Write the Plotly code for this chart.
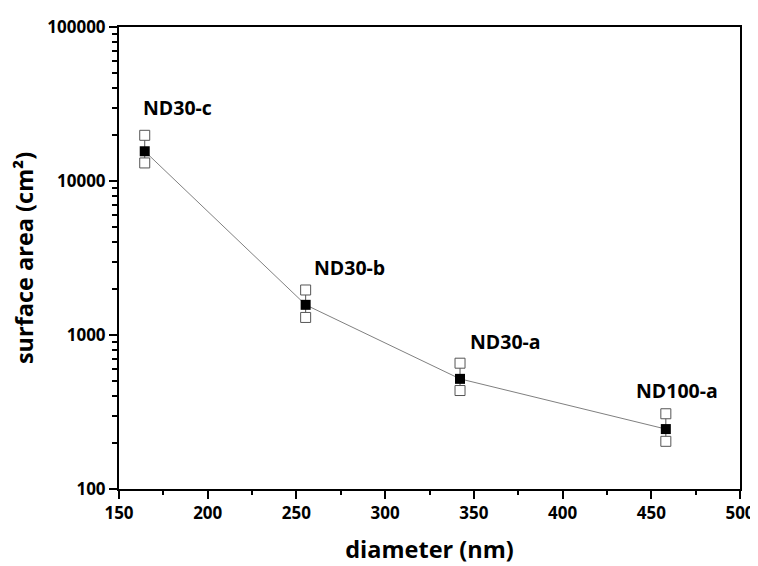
import math
import plotly.graph_objects as go

# Data
samples = ["ND30-c", "ND30-b", "ND30-a", "ND100-a"]
diameter = [164.5, 255.2, 342.2, 458.2]
area_mean = [15600, 1570, 519, 245]
area_upper = [19800, 1960, 656, 308]
area_lower = [13100, 1300, 436, 204]

# label offsets (pixels) relative to upper marker
label_dx = [33, 44, 45, 11]
label_dy = [28, 22, 22, 23]

FONT = "Open Sans"

err_plus = [u - m for u, m in zip(area_upper, area_mean)]
err_minus = [m - l for m, l in zip(area_mean, area_lower)]

fig = go.Figure()

# connecting line + filled squares with vertical bars
fig.add_trace(go.Scatter(
    x=diameter, y=area_mean, mode="lines+markers",
    line=dict(color="#808080", width=1),
    marker=dict(symbol="square", size=10, color="black"),
    error_y=dict(type="data", array=err_plus, arrayminus=err_minus,
                 symmetric=False, width=0, thickness=1, color="#555555"),
    showlegend=False))

# open squares (upper/lower)
fig.add_trace(go.Scatter(
    x=diameter + diameter, y=area_upper + area_lower, mode="markers",
    marker=dict(symbol="square", size=10, color="white",
                line=dict(width=1, color="#555555")),
    showlegend=False, hoverinfo="skip"))

for s, x, y, dx, dy in zip(samples, diameter, area_upper, label_dx, label_dy):
    fig.add_annotation(x=x, y=math.log10(y), yref="y", xref="x", text="<b>%s</b>" % s,
                       showarrow=False, xshift=dx, yshift=dy,
                       font=dict(family=FONT, size=19.5, color="black"))

axis_common = dict(
    showline=True, linecolor="black", linewidth=2, mirror=True,
    ticks="outside", tickcolor="black", tickwidth=1.5, ticklen=8,
    showgrid=False, zeroline=False,
    tickfont=dict(family=FONT, size=17, color="black", weight="bold"),
)

fig.update_xaxes(
    range=[150, 500], dtick=50, tick0=150,
    minor=dict(ticks="outside", dtick=25, ticklen=4, tickcolor="black", tickwidth=1.5),
    title=dict(text="<b>diameter (nm)</b>", font=dict(family=FONT, size=23.5, color="black"), standoff=18),
    automargin=False,
    **axis_common)

fig.update_yaxes(
    type="log", range=[2, 5], dtick=1, tickformat="d",
    minor=dict(ticks="outside", dtick="D1", ticklen=5, tickcolor="black", tickwidth=1.5),
    title=dict(text="<b>surface area (cm²)</b>", font=dict(family=FONT, size=23.5, color="black"), standoff=8),
    automargin=False,
    **axis_common)

# page body has an 8px margin, so the figure is shrunk/shifted accordingly
fig.update_layout(
    width=750, height=558,
    margin=dict(l=111, r=18, t=19, b=77),
    paper_bgcolor="white", plot_bgcolor="white",
    font=dict(family=FONT, color="black"),
)

fig.write_html("out.html")
